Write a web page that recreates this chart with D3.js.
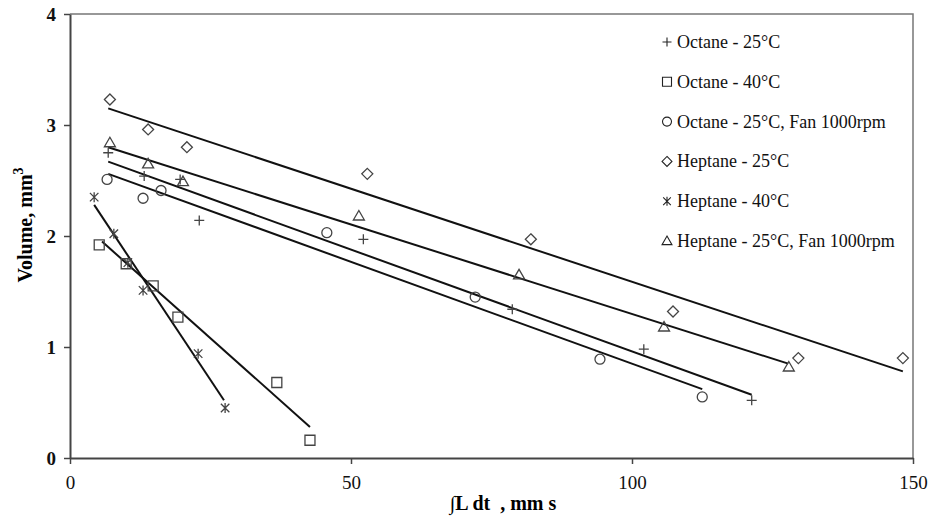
<!DOCTYPE html>
<html>
<head>
<meta charset="utf-8">
<script src="https://cdn.jsdelivr.net/npm/d3@7"></script>
<style>
  body { margin: 0; background: #fff; }
  text { font-family: "Liberation Serif", "Times New Roman", serif; }
</style>
</head>
<body>
<div class="chart"></div>
<script>
// series names, in legend order
const seriesNames = [
  "Octane - 25°C",
  "Octane - 40°C",
  "Octane - 25°C, Fan 1000rpm",
  "Heptane - 25°C",
  "Heptane - 40°C",
  "Heptane - 25°C, Fan 1000rpm"
];
const markerTypes = ["plus", "square", "circle", "diamond", "star", "triangle"];

// measured points [∫L dt, volume]
const octane25 = [[6.8, 2.75], [13.2, 2.54], [19.6, 2.51], [23.0, 2.14], [52.2, 1.97], [78.7, 1.34], [102.1, 0.98], [121.3, 0.52]];
const octane40 = [[5.2, 1.92], [10.0, 1.75], [14.8, 1.55], [19.2, 1.27], [36.8, 0.68], [42.7, 0.16]];
const octane25Fan = [[6.6, 2.51], [13.0, 2.34], [16.2, 2.41], [45.7, 2.03], [72.1, 1.45], [94.3, 0.89], [112.5, 0.55]];
const heptane25 = [[7.1, 3.23], [13.9, 2.96], [20.8, 2.80], [52.9, 2.56], [82.0, 1.97], [107.3, 1.32], [129.6, 0.90], [148.2, 0.90]];
const heptane40 = [[4.3, 2.35], [7.8, 2.02], [10.3, 1.76], [13.0, 1.51], [22.8, 0.94], [27.6, 0.45]];
const heptane25Fan = [[7.1, 2.84], [13.9, 2.65], [20.1, 2.49], [51.4, 2.18], [79.9, 1.65], [105.7, 1.18], [127.9, 0.82]];

// trend lines (start / end)
const fitOctane25 = [[6.8, 2.67], [121.3, 0.57]];
const fitOctane40 = [[5.7, 1.95], [42.7, 0.28]];
const fitOctane25Fan = [[6.8, 2.56], [112.5, 0.62]];
const fitHeptane25 = [[6.8, 3.15], [148.2, 0.78]];
const fitHeptane40 = [[4.3, 2.28], [27.4, 0.52]];
const fitHeptane25Fan = [[6.8, 2.80], [127.8, 0.85]];

const xTicks = [0, 50, 100, 150];
const yTicks = [0, 1, 2, 3, 4];

const allSeries = [octane25, octane40, octane25Fan, heptane25, heptane40, heptane25Fan];
const allFits = [fitOctane25, fitOctane40, fitOctane25Fan, fitHeptane25, fitHeptane40, fitHeptane25Fan];

const width = 929, height = 517;
const plot = {left: 70, right: 913, top: 14, bottom: 458};

const svg = d3.select(".chart")
  .append("svg")
  .attr("width", width)
  .attr("height", height);

const x = d3.scaleLinear().domain([0, 150]).range([plot.left, plot.right]);
const y = d3.scaleLinear().domain([0, 4]).range([plot.bottom, plot.top]);

// frame top/right
svg.append("path")
  .attr("d", `M${plot.left},${plot.top}H${plot.right}V${plot.bottom}`)
  .attr("fill", "none")
  .attr("stroke", "#777")
  .attr("stroke-width", 1.5);

// axes
const xAxis = svg.append("g")
  .attr("transform", `translate(0,${plot.bottom})`)
  .call(d3.axisBottom(x).tickValues(xTicks).tickFormat(d3.format("d"))
    .tickSize(6).tickPadding(12).tickSizeOuter(0));
const yAxis = svg.append("g")
  .attr("transform", `translate(${plot.left},0)`)
  .call(d3.axisLeft(y).tickValues(yTicks).tickFormat(d3.format("d"))
    .tickSize(6).tickPadding(8).tickSizeOuter(0));

[xAxis, yAxis].forEach(a => {
  a.select(".domain").attr("stroke", "#444").attr("stroke-width", 2);
  a.selectAll(".tick line").attr("stroke", "#444").attr("stroke-width", 1.5);
  a.selectAll(".tick text")
    .attr("fill", "#111")
    .style("font-family", "'Liberation Serif', serif")
    .style("font-size", "19px");
});
yAxis.selectAll(".tick text").style("font-weight", "bold");

// axis titles
svg.append("text")
  .attr("x", 503)
  .attr("y", 510)
  .attr("text-anchor", "middle")
  .style("font-size", "20px")
  .style("font-weight", "bold")
  .style("white-space", "pre")
  .text("∫L dt\u00a0\u00a0, mm s");

const yTitle = svg.append("text")
  .attr("transform", "translate(32,225) rotate(-90)")
  .attr("text-anchor", "middle")
  .style("font-size", "20px")
  .style("font-weight", "bold");
yTitle.append("tspan").text("Volume, mm");
yTitle.append("tspan").attr("dy", -9).style("font-size", "14px").text("3");

// trend lines
const line = d3.line().x(d => x(d[0])).y(d => y(d[1]));
svg.append("g")
  .selectAll("path")
  .data(allFits)
  .join("path")
  .attr("d", line)
  .attr("fill", "none")
  .attr("stroke", "#111")
  .attr("stroke-width", 2);

// marker shapes
function markerPath(type, s) {
  const h = s / 2;
  switch (type) {
    case "plus": return `M${-h},0H${h}M0,${-h}V${h}`;
    case "square": return `M${-h},${-h}H${h}V${h}H${-h}Z`;
    case "circle": return `M${h},0A${h},${h} 0 1,1 ${-h},0A${h},${h} 0 1,1 ${h},0Z`;
    case "diamond": return `M0,${-h * 1.1}L${h * 1.1},0L0,${h * 1.1}L${-h * 1.1},0Z`;
    case "star": {
      const a = h * 0.85;
      return `M${-a},${-a}L${a},${a}M${-a},${a}L${a},${-a}M0,${-h}V${h}`;
    }
    case "triangle": return `M0,${-h * 1.1}L${h * 1.1},${h * 0.8}L${-h * 1.1},${h * 0.8}Z`;
  }
}

allSeries.forEach((pts, i) => {
  svg.append("g")
    .selectAll("path")
    .data(pts)
    .join("path")
    .attr("transform", d => `translate(${x(d[0])},${y(d[1])})`)
    .attr("d", markerPath(markerTypes[i], 10))
    .attr("fill", "none")
    .attr("stroke", "#444")
    .attr("stroke-width", 1.3);
});

// legend
const legend = svg.append("g");
seriesNames.forEach((name, i) => {
  const ly = 42 + i * 39.8;
  legend.append("path")
    .attr("transform", `translate(667,${ly})`)
    .attr("d", markerPath(markerTypes[i], 9))
    .attr("fill", "none")
    .attr("stroke", "#222")
    .attr("stroke-width", 1.1);
  legend.append("text")
    .attr("x", 677)
    .attr("y", ly + 6)
    .style("font-size", "18px")
    .attr("fill", "#111")
    .text(name);
});
</script>
</body>
</html>
